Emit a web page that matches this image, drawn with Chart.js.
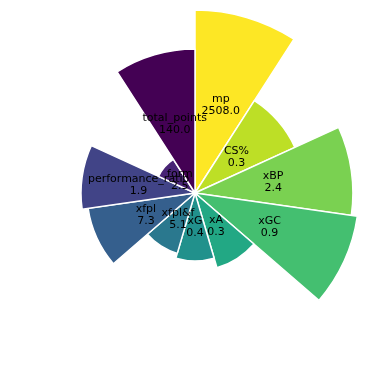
<!DOCTYPE html>
<html>
<head>
<meta charset="utf-8">
<script src="https://cdn.jsdelivr.net/npm/chart.js@4"></script>
<style>
  html, body { margin: 0; padding: 0; background: #fff; }
  #wrap { width: 389px; height: 389px; }
</style>
</head>
<body>
<div id="wrap"><canvas id="polarChart"></canvas></div>
<script>
// categories, clockwise from the top
const metrics = ['mp', 'CS%', 'xBP', 'xGC', 'xA', 'xG', 'xfpl&f', 'xfpl', 'performance_ratio', 'form', 'total_points'];
// shown values (label text)
const shownValues = [2508.0, 0.3, 2.4, 0.9, 0.3, 0.4, 5.1, 7.3, 1.9, 2.5, 140.0];
// plotted bar length (normalised)
const barLength = [1.0, 0.60, 0.863, 0.896, 0.426, 0.372, 0.344, 0.59, 0.623, 0.219, 0.787];
// viridis colours
const barColors = ['#fde725', '#bddf26', '#7ad151', '#44bf70', '#22a884', '#21918c', '#2a788e', '#355f8d', '#414487', '#482475', '#440154'];

// draws "name\nvalue" at half radius of each wedge
const wedgeLabels = {
  id: 'wedgeLabels',
  afterDatasetsDraw(chart) {
    const ctx = chart.ctx;
    const meta = chart.getDatasetMeta(0);
    ctx.save();
    ctx.fillStyle = '#000';
    ctx.font = '11px "DejaVu Sans"';
    ctx.textAlign = 'center';
    ctx.textBaseline = 'middle';
    meta.data.forEach((arc, i) => {
      const p = arc.getCenterPoint();
      ctx.fillText(metrics[i], p.x, p.y - 6);
      ctx.fillText(shownValues[i].toFixed(1), p.x, p.y + 6);
    });
    ctx.restore();
  }
};

const ctx = document.getElementById('polarChart').getContext('2d');
new Chart(ctx, {
  type: 'polarArea',
  data: {
    labels: metrics,
    datasets: [{
      data: barLength,
      backgroundColor: barColors,
      borderColor: '#ffffff',
      borderWidth: 1.5,
    }],
  },
  options: {
    responsive: true,
    maintainAspectRatio: false,
    animation: false,
    layout: { padding: { left: 12, right: 11, top: 10, bottom: 13 } },
    scales: {
      r: { display: false, min: 0, max: 1 },
    },
    plugins: {
      legend: { display: false },
      tooltip: { enabled: false },
    },
  },
  plugins: [wedgeLabels],
});
</script>
</body>
</html>
